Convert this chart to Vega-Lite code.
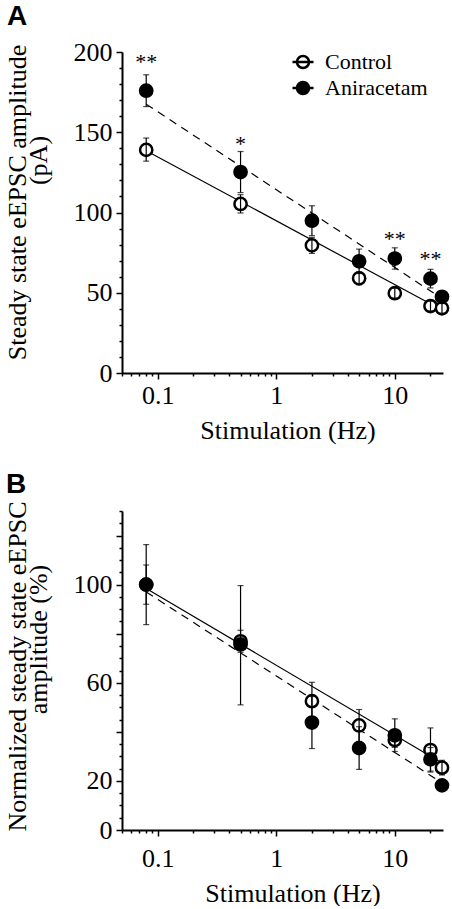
{
  "$schema": "https://vega.github.io/schema/vega-lite/v6.json",
  "background": "white",
  "padding": {"left": 3, "top": 3, "right": 0, "bottom": 0},
  "spacing": 28,
  "resolve": {"scale": {"fill": "independent"}, "legend": {"fill": "independent"}},
  "config": {
    "view": {"stroke": null},
    "font": "Liberation Serif",
    "axis": {
      "domainColor": "black", "domainWidth": 2, "tickColor": "black", "tickWidth": 1.5,
      "labelFont": "Liberation Serif", "labelFontSize": 26, "labelColor": "black",
      "titleFont": "Liberation Serif", "titleFontSize": 26, "titleFontWeight": "normal", "titleColor": "black",
      "grid": false, "labelOverlap": false, "labelFlush": false
    },
    "legend": {"labelFont": "Liberation Serif", "labelFontSize": 22, "labelColor": "black"}
  },
  "datasets": {
    "a": [
      {"hz": 0.08, "group": "Control", "mean": 139, "lo": 132, "hi": 146.4},
      {"hz": 0.5, "group": "Control", "mean": 105.3, "lo": 99.7, "hi": 111.1},
      {"hz": 2, "group": "Control", "mean": 79.5, "lo": 74.5, "hi": 84.5},
      {"hz": 5, "group": "Control", "mean": 59, "lo": 55, "hi": 63},
      {"hz": 10, "group": "Control", "mean": 49.7, "lo": 46.7, "hi": 52.7},
      {"hz": 20, "group": "Control", "mean": 41.7, "lo": 38.7, "hi": 44.7},
      {"hz": 25, "group": "Control", "mean": 40.3, "lo": 37.3, "hi": 43.3},
      {"hz": 0.08, "group": "Aniracetam", "mean": 175.9, "lo": 166, "hi": 185.8},
      {"hz": 0.5, "group": "Aniracetam", "mean": 125.2, "lo": 112.4, "hi": 138},
      {"hz": 2, "group": "Aniracetam", "mean": 94.9, "lo": 85.6, "hi": 104.2},
      {"hz": 5, "group": "Aniracetam", "mean": 69.6, "lo": 62, "hi": 77.2},
      {"hz": 10, "group": "Aniracetam", "mean": 71.3, "lo": 64.7, "hi": 78},
      {"hz": 20, "group": "Aniracetam", "mean": 58.8, "lo": 53, "hi": 64.6},
      {"hz": 25, "group": "Aniracetam", "mean": 47.5, "lo": 44.5, "hi": 50.5}
    ],
    "b": [
      {"hz": 0.08, "group": "Control", "mean": 100, "lo": 92, "hi": 108},
      {"hz": 0.5, "group": "Control", "mean": 76.9, "lo": 72.4, "hi": 81.4},
      {"hz": 2, "group": "Control", "mean": 52.5, "lo": 44.8, "hi": 60.2},
      {"hz": 5, "group": "Control", "mean": 42.6, "lo": 36.1, "hi": 49.1},
      {"hz": 10, "group": "Control", "mean": 36.7, "lo": 33.7, "hi": 39.7},
      {"hz": 20, "group": "Control", "mean": 32.6, "lo": 23.6, "hi": 41.6},
      {"hz": 25, "group": "Control", "mean": 25.4, "lo": 22.4, "hi": 28.4},
      {"hz": 0.08, "group": "Aniracetam", "mean": 100, "lo": 83.7, "hi": 116.3},
      {"hz": 0.5, "group": "Aniracetam", "mean": 75.6, "lo": 51, "hi": 99.6},
      {"hz": 2, "group": "Aniracetam", "mean": 43.8, "lo": 33.2, "hi": 54.4},
      {"hz": 5, "group": "Aniracetam", "mean": 33.4, "lo": 24.7, "hi": 42.1},
      {"hz": 10, "group": "Aniracetam", "mean": 38.6, "lo": 32, "hi": 45.3},
      {"hz": 20, "group": "Aniracetam", "mean": 28.8, "lo": 24, "hi": 33.6},
      {"hz": 25, "group": "Aniracetam", "mean": 18.2, "lo": 16.2, "hi": 20.2}
    ],
    "fitA": [
      {"hz": 0.08, "y": 138.5, "group": "Control"},
      {"hz": 25, "y": 39.2, "group": "Control"},
      {"hz": 0.08, "y": 167.5, "group": "Aniracetam"},
      {"hz": 25, "y": 46.4, "group": "Aniracetam"}
    ],
    "fitB": [
      {"hz": 0.08, "y": 98.4, "group": "Control"},
      {"hz": 25, "y": 27.3, "group": "Control"},
      {"hz": 0.08, "y": 97, "group": "Aniracetam"},
      {"hz": 25, "y": 19.2, "group": "Aniracetam"}
    ],
    "starsA": [
      {"hz": 0.08, "y": 196, "label": "**"},
      {"hz": 0.5, "y": 145, "label": "*"},
      {"hz": 10, "y": 85.4, "label": "**"},
      {"hz": 20, "y": 72.9, "label": "**"}
    ]
  },
  "vconcat": [
    {
      "width": 321,
      "height": 321,
      "title": {"text": "A", "anchor": "start", "frame": "bounds", "font": "Liberation Sans", "fontSize": 28, "fontWeight": "bold", "color": "black", "offset": 8, "dx": 3},
      "resolve": {"axis": {"y": "independent"}},
      "layer": [
        {
          "layer": [
            {
              "data": {"name": "fitA"},
              "transform": [{"filter": "datum.group === 'Control'"}],
              "mark": {"type": "line", "color": "black", "strokeWidth": 1.2},
              "encoding": {
                "x": {"field": "hz", "type": "quantitative", "scale": {"type": "log", "domain": [0.05, 25.5], "nice": false},
                  "axis": {"values": [0.05,0.06,0.07,0.08,0.09,0.1,0.2,0.3,0.4,0.5,0.6,0.7,0.8,0.9,1,2,3,4,5,6,7,8,9,10,20], "format": "~g",
                    "labelExpr": "(datum.value==0.1||datum.value==1||datum.value==10)?datum.label:''",
                    "tickSize": {"condition": {"test": "datum.value==0.1||datum.value==1||datum.value==10", "value": 6}, "value": 3},
                    "labelBaseline": "alphabetic", "labelPadding": 24,
                    "title": "Stimulation (Hz)", "titleX": 165.5, "titleY": 65, "titleBaseline": "alphabetic", "titleAlign": "center"}},
                "y": {"field": "y", "type": "quantitative", "scale": {"domain": [0, 200], "nice": false},
                  "axis": {"values": [0, 50, 100, 150, 200], "tickSize": 6, "labelPadding": 4,
                    "title": "Steady state eEPSC amplitude", "titleX": -105, "titleY": 150, "titleAngle": -90, "titleAlign": "center", "titleBaseline": "middle"}}
              }
            },
            {
              "data": {"name": "fitA"},
              "transform": [{"filter": "datum.group === 'Aniracetam'"}],
              "mark": {"type": "line", "color": "black", "strokeWidth": 1.2, "strokeDash": [8, 6]},
              "encoding": {
                "x": {"field": "hz", "type": "quantitative"},
                "y": {"field": "y", "type": "quantitative"}
              }
            },
            {
              "data": {"name": "a"},
              "transform": [{"filter": "datum.group === 'Control'"}],
              "mark": {"type": "point", "shape": "circle", "filled": true, "size": 150, "stroke": "black", "strokeWidth": 2.5, "opacity": 1},
              "encoding": {
                "x": {"field": "hz", "type": "quantitative"},
                "y": {"field": "mean", "type": "quantitative"},
                "fill": {"field": "group", "type": "nominal", "scale": {"domain": ["Control", "Aniracetam"], "range": ["white", "black"]},
                  "legend": {"orient": "none", "legendX": 170, "legendY": -1, "title": null, "symbolType": "M-1,0A1,1 0 1,1 1,0A1,1 0 1,1 -1,0M-1.75,0L1.75,0",
                    "symbolSize": 144, "symbolStrokeColor": "black", "symbolStrokeWidth": 2.5, "labelOffset": 11, "rowPadding": 4}}
              }
            },
            {
              "data": {"name": "a"},
              "mark": {"type": "rule", "color": "black", "strokeWidth": 1.2},
              "encoding": {
                "x": {"field": "hz", "type": "quantitative"},
                "y": {"field": "lo", "type": "quantitative"},
                "y2": {"field": "hi"}
              }
            },
            {
              "data": {"name": "a"},
              "mark": {"type": "tick", "orient": "horizontal", "size": 6, "thickness": 1.2, "color": "black"},
              "encoding": {"x": {"field": "hz", "type": "quantitative"}, "y": {"field": "lo", "type": "quantitative"}}
            },
            {
              "data": {"name": "a"},
              "mark": {"type": "tick", "orient": "horizontal", "size": 6, "thickness": 1.2, "color": "black"},
              "encoding": {"x": {"field": "hz", "type": "quantitative"}, "y": {"field": "hi", "type": "quantitative"}}
            },
            {
              "data": {"name": "a"},
              "transform": [{"filter": "datum.group === 'Aniracetam'"}],
              "mark": {"type": "point", "shape": "circle", "filled": true, "size": 150, "stroke": "black", "strokeWidth": 2.5, "opacity": 1},
              "encoding": {
                "x": {"field": "hz", "type": "quantitative"},
                "y": {"field": "mean", "type": "quantitative"},
                "fill": {"field": "group", "type": "nominal", "scale": {"domain": ["Control", "Aniracetam"], "range": ["white", "black"]},
                  "legend": {"orient": "none", "legendX": 170, "legendY": -1, "title": null, "symbolType": "M-1,0A1,1 0 1,1 1,0A1,1 0 1,1 -1,0M-1.75,0L1.75,0",
                    "symbolSize": 144, "symbolStrokeColor": "black", "symbolStrokeWidth": 2.5, "labelOffset": 11, "rowPadding": 4}}
              }
            },
            {
              "data": {"name": "starsA"},
              "mark": {"type": "text", "font": "Liberation Serif", "fontSize": 22, "color": "black", "baseline": "middle", "dy": 3.5},
              "encoding": {
                "x": {"field": "hz", "type": "quantitative"},
                "y": {"field": "y", "type": "quantitative"},
                "text": {"field": "label"}
              }
            }
          ]
        },
        {
          "data": {"name": "a"},
          "mark": {"type": "point", "opacity": 0},
          "encoding": {
            "x": {"field": "hz", "type": "quantitative"},
            "y": {"field": "mean", "type": "quantitative",
              "axis": {"orient": "left", "domain": false, "labels": false, "tickSize": 3,
                "values": [10,20,30,40,60,70,80,90,110,120,130,140,160,170,180,190],
                "title": "(pA)", "titleX": -84, "titleY": 108, "titleAngle": -90, "titleAlign": "center", "titleBaseline": "middle"}}
          }
        }
      ]
    },
    {
      "width": 321,
      "height": 319,
      "title": {"text": "B", "anchor": "start", "frame": "bounds", "font": "Liberation Sans", "fontSize": 28, "fontWeight": "bold", "color": "black", "offset": 2, "dx": 2},
      "resolve": {"axis": {"y": "independent"}},
      "layer": [
        {
          "layer": [
            {
              "data": {"name": "fitB"},
              "transform": [{"filter": "datum.group === 'Control'"}],
              "mark": {"type": "line", "color": "black", "strokeWidth": 1.2},
              "encoding": {
                "x": {"field": "hz", "type": "quantitative", "scale": {"type": "log", "domain": [0.05, 25.5], "nice": false},
                  "axis": {"values": [0.05,0.06,0.07,0.08,0.09,0.1,0.2,0.3,0.4,0.5,0.6,0.7,0.8,0.9,1,2,3,4,5,6,7,8,9,10,20], "format": "~g",
                    "labelExpr": "(datum.value==0.1||datum.value==1||datum.value==10)?datum.label:''",
                    "tickSize": {"condition": {"test": "datum.value==0.1||datum.value==1||datum.value==10", "value": 6}, "value": 3},
                    "labelBaseline": "alphabetic", "labelPadding": 30,
                    "title": "Stimulation (Hz)", "titleX": 170.5, "titleY": 71, "titleBaseline": "alphabetic", "titleAlign": "center"}},
                "y": {"field": "y", "type": "quantitative", "scale": {"domain": [0, 130], "nice": false},
                  "axis": {"values": [0, 20, 40, 60, 80, 100, 120],
                    "labelExpr": "(datum.value==0||datum.value==20||datum.value==60||datum.value==100)?datum.label:''",
                    "tickSize": 6, "labelPadding": 4,
                    "title": "Normalized steady state eEPSC", "titleX": -105, "titleY": 155, "titleAngle": -90, "titleAlign": "center", "titleBaseline": "middle"}}
              }
            },
            {
              "data": {"name": "fitB"},
              "transform": [{"filter": "datum.group === 'Aniracetam'"}],
              "mark": {"type": "line", "color": "black", "strokeWidth": 1.2, "strokeDash": [8, 6]},
              "encoding": {
                "x": {"field": "hz", "type": "quantitative"},
                "y": {"field": "y", "type": "quantitative"}
              }
            },
            {
              "data": {"name": "b"},
              "transform": [{"filter": "datum.group === 'Control'"}],
              "mark": {"type": "point", "shape": "circle", "filled": true, "size": 150, "stroke": "black", "strokeWidth": 2.5, "opacity": 1},
              "encoding": {
                "x": {"field": "hz", "type": "quantitative"},
                "y": {"field": "mean", "type": "quantitative"},
                "fill": {"field": "group", "type": "nominal", "scale": {"domain": ["Control", "Aniracetam"], "range": ["white", "black"]}, "legend": null}
              }
            },
            {
              "data": {"name": "b"},
              "mark": {"type": "rule", "color": "black", "strokeWidth": 1.2},
              "encoding": {
                "x": {"field": "hz", "type": "quantitative"},
                "y": {"field": "lo", "type": "quantitative"},
                "y2": {"field": "hi"}
              }
            },
            {
              "data": {"name": "b"},
              "mark": {"type": "tick", "orient": "horizontal", "size": 6, "thickness": 1.2, "color": "black"},
              "encoding": {"x": {"field": "hz", "type": "quantitative"}, "y": {"field": "lo", "type": "quantitative"}}
            },
            {
              "data": {"name": "b"},
              "mark": {"type": "tick", "orient": "horizontal", "size": 6, "thickness": 1.2, "color": "black"},
              "encoding": {"x": {"field": "hz", "type": "quantitative"}, "y": {"field": "hi", "type": "quantitative"}}
            },
            {
              "data": {"name": "b"},
              "transform": [{"filter": "datum.group === 'Aniracetam'"}],
              "mark": {"type": "point", "shape": "circle", "filled": true, "size": 150, "stroke": "black", "strokeWidth": 2.5, "opacity": 1},
              "encoding": {
                "x": {"field": "hz", "type": "quantitative"},
                "y": {"field": "mean", "type": "quantitative"},
                "fill": {"field": "group", "type": "nominal", "scale": {"domain": ["Control", "Aniracetam"], "range": ["white", "black"]}, "legend": null}
              }
            }
          ]
        },
        {
          "data": {"name": "b"},
          "mark": {"type": "point", "opacity": 0},
          "encoding": {
            "x": {"field": "hz", "type": "quantitative"},
            "y": {"field": "mean", "type": "quantitative",
              "axis": {"orient": "left", "domain": false, "labels": false, "tickSize": 3,
                "values": [5,10,15,25,30,35,45,50,55,65,70,75,85,90,95,105,110,115,125,130],
                "title": "amplitude (%)", "titleX": -84, "titleY": 128, "titleAngle": -90, "titleAlign": "center", "titleBaseline": "middle"}}
          }
        }
      ]
    }
  ]
}
